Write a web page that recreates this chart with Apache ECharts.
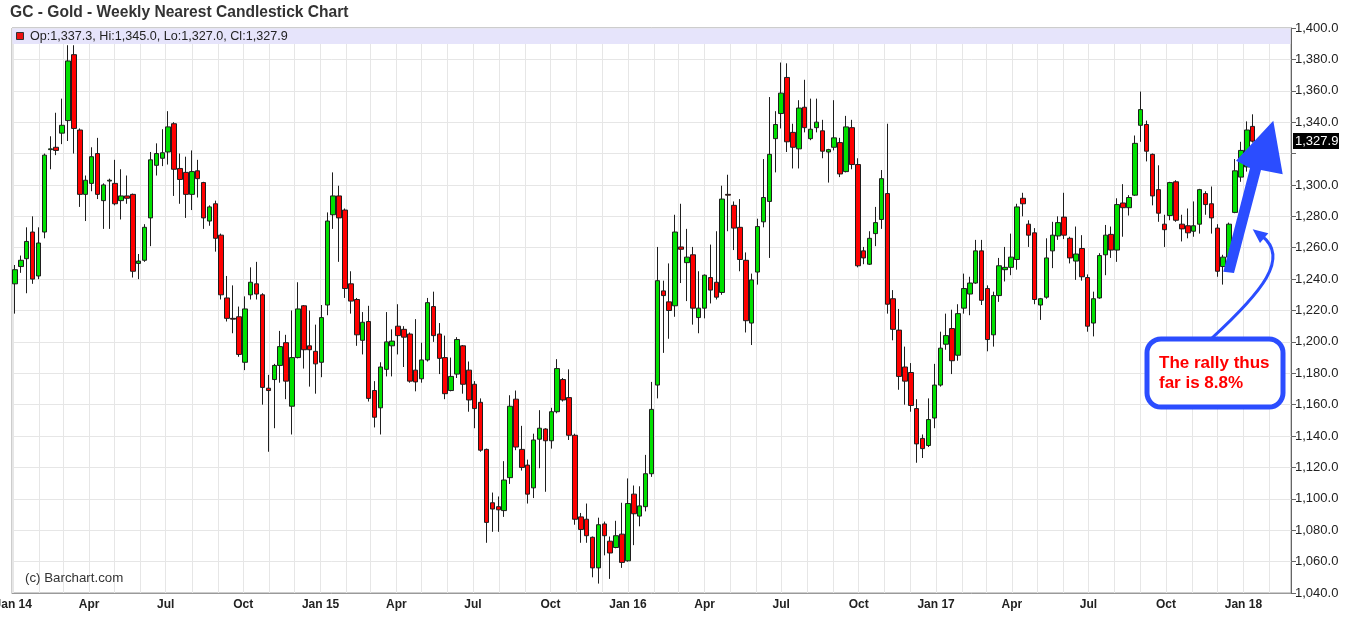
<!DOCTYPE html>
<html><head><meta charset="utf-8">
<script src="https://cdn.jsdelivr.net/npm/echarts@6/dist/echarts.min.js"></script>
<style>html,body{margin:0;padding:0;background:#fff}#c{width:1361px;height:619px}</style>
</head><body><div id="c"></div>
<script>
// ---- data: weekly bars [open, close, low, high], first bar week of 2014-01-03 ----
const firstWeekUTC = Date.UTC(2014, 0, 3);
const extraEmptyWeeks = 6;
const monthNames = ['Jan','Feb','Mar','Apr','May','Jun','Jul','Aug','Sep','Oct','Nov','Dec'];
const yTicks = {min: 1040, max: 1400, step: 20};
const titleText = 'GC - Gold - Weekly Nearest Candlestick Chart';
const calloutLines = ['The rally thus', 'far is 8.8%'];
const copyrightText = '(c) Barchart.com';

const ohlc2014 = [
[1237,1246,1218,1249],[1248,1252,1244,1255],[1253,1264,1231,1273],[1270,1240,1237,1280],[1242,1263,1240,1273],
[1270,1319,1266,1320],[1322.5,1323,1310,1331],[1324,1322,1319,1346],[1333,1338,1326,1355],[1341,1379,1328,1389],
[1383,1336,1320,1389],[1335,1294,1286,1336],[1294,1303,1277,1306],[1301,1318,1296,1324],[1320,1294,1291,1330],
[1290,1300,1272,1301],[1302.5,1303,1272,1304],[1301,1288,1287,1316],[1290,1293,1278,1310],[1293,1291.5,1288,1306],
[1294,1245,1241,1294.5],[1250,1251.5,1240,1256],[1252,1273,1251,1275],[1279,1316,1261,1321],[1312.5,1320,1306,1326.5],
[1317,1320.5,1312,1335.5],[1321,1337,1313,1347],[1339,1310,1293,1340],[1310.5,1303.5,1288,1320],[1308,1294,1279,1318],
[1294,1308.5,1284,1322],[1309,1304,1292,1316],[1301.5,1279,1272,1302],[1277,1286,1274,1287],[1288,1266,1257.5,1290],
[1268,1230,1227,1269],[1228,1215,1213,1242],[1215,1214.5,1205.5,1236],[1216,1192,1190.5,1222.5],[1187,1221,1182,1229],
[1230,1238,1227,1247.5],[1237,1230.5,1227,1251],[1230,1171,1160,1231],[1170.5,1169,1130,1179],[1176,1185,1145,1186],
[1185,1197,1174,1207],[1199.5,1175,1163.5,1204.5],[1159,1190,1141,1220],[1190,1221,1189.5,1238],[1223,1195,1183,1223.5],
[1197.5,1195,1171.5,1220],[1194,1186,1167,1211]
];
const ohlc2015 = [
[1187,1215.5,1177.5,1223.5],[1223.5,1277,1217,1282.5],[1281,1293,1272,1308],[1293,1279,1251,1299.5],[1284,1234,1228,1285],
[1237,1226,1218,1245],[1227,1204.5,1197.5,1228],[1201,1212.5,1192,1219],[1213,1164,1162,1223],[1169,1152,1145.5,1175],
[1158,1184,1141,1187],[1182.5,1200,1178,1219],[1197.5,1200.5,1178,1208],[1210,1204,1192,1224],[1208,1203,1184,1210],
[1205,1175,1174,1206],[1182,1174.5,1168.5,1214.5],[1176.5,1188.5,1174,1199.5],[1188.5,1225,1187.5,1228],[1222.5,1204,1200,1232],
[1205,1189.5,1179.5,1212],[1190,1167,1163.5,1204],[1169,1178,1168.5,1190],[1179.5,1201.5,1177,1203],[1197.5,1173,1167,1198],
[1182,1163,1155.5,1187.5],[1173,1157.5,1145,1175],[1161.5,1131,1130,1164],[1131.5,1085,1072,1132],[1097.5,1093.5,1079,1104],
[1095,1093,1079,1101.5],[1092.5,1112,1088.5,1124],[1113.5,1159,1109.5,1166],[1163.5,1133,1131,1169],[1131.5,1120,1118,1146.5],
[1121.5,1103,1097,1125],[1107,1137.5,1100.5,1141.5],[1138,1145,1119.5,1156.5],[1144.5,1137,1104.5,1145],[1137,1155.5,1132,1158],
[1155.5,1183,1154.5,1189],[1176,1163,1162,1177],[1164.5,1140.5,1137.5,1182.5],[1140.5,1087,1083.5,1141.5],[1088.5,1080.5,1072,1091],
[1087,1076.5,1072,1097],[1075.5,1056,1050,1076],[1056,1083.5,1046,1088],[1084,1076.5,1064,1085.5],[1073,1065.5,1049,1076],
[1069,1076.5,1068.5,1086],[1077.5,1059.5,1056,1097.5]
];
const ohlc2016 = [
[1060.5,1097,1060,1113],[1103,1090.5,1070.5,1108.5],[1089,1095.5,1082.5,1108],[1095,1116,1092,1128],[1116,1157,1114,1174.5],
[1172.5,1239,1164,1260.5],[1232.5,1229.5,1193,1239],[1225.5,1220,1202,1250],[1223,1270,1216,1281],[1260.5,1259,1237.5,1288],
[1250.5,1254,1226,1272],[1255.5,1221.5,1211,1260.5],[1215.5,1221.5,1205.5,1245],[1221.5,1242.5,1215,1243],[1241,1233,1224.5,1262],
[1238,1228.5,1227,1270.5],[1231.5,1291,1230,1299.5],[1294,1293.5,1270.5,1306.5],[1287,1272.5,1258.5,1289.5],[1273,1252.5,1245,1291],
[1252,1213.5,1206,1257],[1212,1239.5,1198,1243.5],[1244.5,1273.5,1236.5,1278.5],[1276.5,1292,1273,1316.5],[1289.5,1319.5,1253.5,1356],
[1329.5,1338.5,1308,1347],[1345.5,1358.5,1336,1378],[1368.5,1327.5,1321,1377.5],[1333.5,1324,1310.5,1339],[1323,1349,1310.5,1354],
[1349.5,1336.5,1333.5,1367],[1329.5,1335.5,1328.5,1355],[1336.5,1340,1333.5,1355],[1334.5,1321.5,1317,1341.5],[1321,1322.5,1301.5,1323],
[1324,1330,1322,1354],[1327,1307,1305,1330],[1308.5,1337,1308,1344],[1336.5,1313,1310,1341.5],[1313,1248.5,1247.5,1317],
[1258,1253.5,1249.5,1260.5],[1249.5,1266,1249,1270.5],[1269,1276,1261,1286],[1278,1304,1272,1309.5],[1294.5,1224,1218,1339],
[1227.5,1208,1201,1233],[1207.5,1178,1169.5,1221],[1184,1175,1160,1197],[1180.5,1159.5,1155.5,1186.5],[1157.5,1135,1123,1163.5],
[1138.5,1132,1126,1141],[1134,1150.5,1133,1164],[1151.5,1172.5,1145,1186]
];
const ohlc2017 = [
[1172.5,1196,1171.5,1206.5],[1198.5,1204,1195,1218],[1208.5,1188,1179.5,1220.5],[1191.5,1218,1188,1224],[1221.5,1234,1218,1243.5],
[1230.5,1237.5,1217,1241.5],[1237.5,1258,1237,1265],[1258,1226.5,1223.5,1265],[1234,1201.5,1194,1236],[1204.5,1229.5,1197,1232],
[1229.5,1248.5,1225.5,1253.5],[1246,1247.5,1238.5,1260.5],[1247.5,1254,1242.5,1269],[1252.5,1286,1246,1288],[1291.5,1288,1280,1295],
[1275,1268,1260.5,1277.5],[1269.5,1227,1224,1272.5],[1223.5,1227.5,1214,1228],[1228.5,1253.5,1227.5,1266],[1258,1268,1247,1276.5],
[1267.5,1276,1265,1280],[1279.5,1268,1265.5,1295],[1266,1253.5,1250,1267],[1251.5,1256,1239.5,1273.5],[1259.5,1241.5,1239,1268],
[1241,1210,1206.5,1243],[1212,1227.5,1203.5,1232],[1228,1255,1227.5,1256.5],[1255.5,1268,1242.5,1274.5],[1268.5,1258.5,1253.5,1273.5],
[1258.5,1287.5,1251,1291.5],[1288.5,1285.5,1267,1300.5],[1285.5,1292,1280.5,1293.5],[1293.5,1326.5,1293,1331.5],[1338,1348,1327.5,1359.5],
[1338.5,1321.5,1315,1341],[1319.5,1293,1287,1320],[1297,1282,1276.5,1312.5],[1275,1271.5,1260.5,1281],[1280.5,1301.5,1277.5,1302],
[1302,1277.5,1276.5,1303],[1275,1272,1264,1281],[1274,1269.5,1266,1285],[1270.5,1274,1267,1289.5],[1275,1297,1269,1297.5],
[1294.5,1287.5,1281,1296],[1288,1279,1269,1299],[1272.5,1245,1241.5,1275],[1248,1254,1236.5,1255.5],[1254,1275,1252,1276],
[1282.5,1309,1282,1316.5],[1305,1322,1302,1327.5]
];
const ohlc2018 = [
[1311.5,1335,1308.5,1340.5],[1337.3,1327.9,1327.0,1345.0]
];

// ---- build ----
const WEEK = 7 * 86400000;
const bars = [].concat(ohlc2014, ohlc2015, ohlc2016, ohlc2017, ohlc2018);
const nCats = bars.length + extraEmptyWeeks;
const categories = [];
for (let i = 0; i < nCats; i++) {
  const d = new Date(firstWeekUTC + i * WEEK);
  categories.push(d.toISOString().slice(0, 10));
}
function fmt(v) {
  const s = Number(v).toFixed(1);
  const p = s.split('.');
  return p[0].replace(/\B(?=(\d{3})+(?!\d))/g, ',') + '.' + p[1];
}
const last = bars[bars.length - 1];
const legendText = 'Op:' + fmt(last[0]) + ', Hi:' + fmt(last[3]) + ', Lo:' + fmt(last[2]) + ', Cl:' + fmt(last[1]);

const FONT = '"Liberation Sans", Arial, sans-serif';
const BLUE = '#2b4dff';
const chart = echarts.init(document.getElementById('c'), null, {renderer: 'canvas'});
const option = {
  animation: false,
  useUTC: true,
  backgroundColor: '#fff',
  grid: {left: 12, right: 70, top: 28, bottom: 26, show: true, borderColor: '#9a9a9a', borderWidth: 1, containLabel: false, outerBoundsMode: 'none'},
  xAxis: [
    {type: 'category', data: categories, boundaryGap: true, show: false, gridIndex: 0},
    {type: 'time', gridIndex: 0, position: 'bottom',
     min: firstWeekUTC - WEEK / 2, max: firstWeekUTC + (nCats - 0.5) * WEEK,
     minInterval: 28 * 86400000, maxInterval: 31 * 86400000,
     axisLine: {show: true, lineStyle: {color: '#9a9a9a'}},
     axisTick: {show: false},
     splitLine: {show: true, lineStyle: {color: '#e6e6e6', width: 1}},
     axisLabel: {show: true, color: '#222', fontSize: 12, fontWeight: 'bold', fontFamily: FONT, margin: 6,
       showMinLabel: true, showMaxLabel: true, hideOverlap: false,
       formatter: function (val) {
         const d = new Date(val);
         const m = d.getUTCMonth();
         if (d.getUTCDate() !== 1 || m % 3 !== 0) return '';
         return m === 0 ? 'Jan ' + String(d.getUTCFullYear()).slice(2) : monthNames[m];
       }}
    }
  ],
  yAxis: {
    type: 'value', position: 'right', min: yTicks.min, max: yTicks.max, interval: yTicks.step, scale: true,
    axisLine: {show: true, lineStyle: {color: '#666'}},
    axisTick: {show: true, length: 5, lineStyle: {color: '#666'}},
    splitLine: {show: true, lineStyle: {color: '#e6e6e6', width: 1}},
    axisLabel: {color: '#222', fontSize: 13, fontFamily: FONT, margin: 4,
      formatter: function (v) { return Math.abs(v - last[1]) < 9 ? '' : fmt(v); }}
  },
  series: [{
    type: 'candlestick', xAxisIndex: 0, yAxisIndex: 0, data: bars, barWidth: 5,
    itemStyle: {color: '#00e000', color0: '#ff0000', borderColor: '#1e1e1e', borderColor0: '#1e1e1e', borderWidth: 1}
  }]
};
chart.setOption(option);

const yLast = chart.convertToPixel({yAxisIndex: 0}, last[1]);
chart.setOption({
  graphic: [
    {type: 'rect', z: 1, shape: {x: 12.5, y: 28.5, width: 1278, height: 15.5}, style: {fill: '#e6e4fb'}},
    {type: 'rect', z: 10, shape: {x: 16.5, y: 32.5, width: 7, height: 7}, style: {fill: '#ee1111', stroke: '#333', lineWidth: 1}},
    {type: 'text', z: 10, x: 30, y: 36.5, style: {text: legendText, font: '12.6px ' + FONT, fill: '#222', verticalAlign: 'middle'}},
    {type: 'text', z: 10, x: 10, y: 12.5, style: {text: titleText, font: 'bold 15.6px ' + FONT, fill: '#333', verticalAlign: 'middle'}},
    {type: 'text', z: 10, x: 25, y: 578, style: {text: copyrightText, font: '13.3px ' + FONT, fill: '#333', verticalAlign: 'middle'}},
    {type: 'rect', z: 10, shape: {x: 1293, y: Math.round(yLast) - 8, width: 46, height: 16}, style: {fill: '#000'}},
    {type: 'text', z: 11, x: 1295, y: Math.round(yLast), style: {text: fmt(last[1]), font: '13px ' + FONT, fill: '#fff', verticalAlign: 'middle'}},
    // thick arrow
    {type: 'polygon', z: 20, shape: {points: [[1223.3,271.7],[1250,168],[1236,160.7],[1273.3,120.7],[1282.7,174.3],[1261,170],[1234,273]]},
     style: {fill: BLUE}},
    // curved thin arrow
    {type: 'bezierCurve', z: 20, shape: {x1: 1212, y1: 338, cpx1: 1262, cpy1: 292, cpx2: 1290, cpy2: 258, x2: 1262, y2: 236},
     style: {stroke: BLUE, lineWidth: 3, fill: null}},
    {type: 'polygon', z: 20, shape: {points: [[1252.7,229.3],[1260,243],[1268.3,233.3]]}, style: {fill: BLUE}},
    // callout
    {type: 'rect', z: 20, shape: {x: 1147, y: 339, width: 136, height: 68, r: 14}, style: {fill: '#fff', stroke: BLUE, lineWidth: 5}},
    {type: 'text', z: 21, x: 1159, y: 363, style: {text: calloutLines[0], font: 'bold 17px ' + FONT, fill: '#ff0000', verticalAlign: 'middle'}},
    {type: 'text', z: 21, x: 1159, y: 383, style: {text: calloutLines[1], font: 'bold 17px ' + FONT, fill: '#ff0000', verticalAlign: 'middle'}}
  ]
});
</script></body></html>
